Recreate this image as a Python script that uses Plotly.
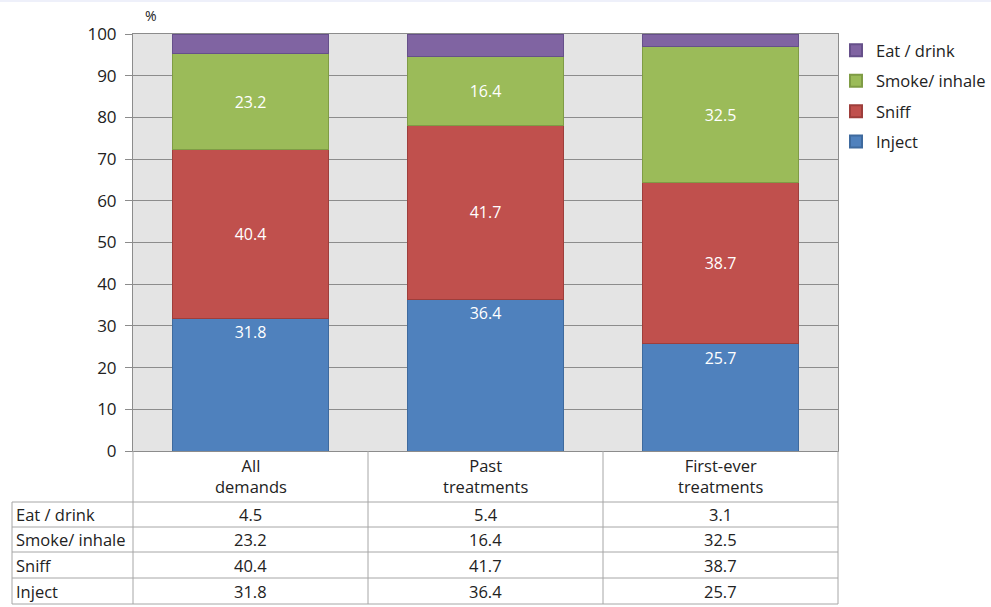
import plotly.graph_objects as go

categories = ["All<br>demands", "Past<br>treatments", "First-ever<br>treatments"]
series_names = ["Inject", "Sniff", "Smoke/ inhale", "Eat / drink"]
inject = [31.8, 36.4, 25.7]
sniff = [40.4, 41.7, 38.7]
smoke = [23.2, 16.4, 32.5]
eat = [4.5, 5.4, 3.1]
y_ticks = [0, 10, 20, 30, 40, 50, 60, 70, 80, 90, 100]

colors = ["#4F81BD", "#C0504D", "#9BBB59", "#8064A2"]
edge = ["#3E6A9E", "#9E3E3B", "#7F9C45", "#66508A"]
values = [inject, sniff, smoke, eat]
FONT = "Open Sans"
FS = 16.5

W, H = 991, 607
ML, MR, MT, MB = 133, 153, 34, 156
PW, PH = W - ML - MR, H - MT - MB

def py(px):
    return (H - MB - px) / PH

def pxx(px):
    return (px - ML) / PW

xs = list(range(len(categories)))
fig = go.Figure()
for i, (name, vals) in enumerate(zip(series_names, values)):
    show_text = i < 3
    fig.add_trace(go.Bar(
        x=xs, y=vals, name=name, legendgroup=name, legendrank=len(series_names) - i,
        marker=dict(color=colors[i], line=dict(color=edge[i], width=1)),
        width=0.664,
        text=[f"{v:.1f}" for v in vals] if show_text else None,
        texttemplate="%{text}" if show_text else None,
        textposition="inside" if show_text else "none",
        insidetextanchor="end" if i == 0 else "middle",
        textfont=dict(color="white", size=16, family=FONT),
        textangle=0,
        hoverinfo="skip",
    ))

fig.update_layout(
    barmode="stack",
    width=W, height=H,
    margin=dict(l=ML, r=MR, t=MT, b=MB, pad=0, autoexpand=False),
    paper_bgcolor="white",
    plot_bgcolor="#E4E4E4",
    font=dict(family=FONT, size=FS, color="#222"),
    legend=dict(xref="container", yref="container", x=836 / W, y=1 - 33 / H,
                xanchor="left", yanchor="top",
                traceorder="grouped", tracegroupgap=6,
                font=dict(size=FS, family=FONT, color="#222"),
                itemsizing="constant", bgcolor="rgba(0,0,0,0)", itemwidth=30),
    showlegend=True,
)
fig.update_xaxes(range=[-0.5, 2.5], showticklabels=False, showgrid=False, zeroline=False,
                 showline=True, linecolor="#8C8C8C", linewidth=1, mirror=True, ticks="")
fig.update_yaxes(range=[0, 100], tickvals=y_ticks, showgrid=True, gridcolor="#8C8C8C",
                 gridwidth=1, zeroline=False, showline=True, linecolor="#8C8C8C", mirror=True,
                 ticks="outside", ticklen=7, tickcolor="#8C8C8C", ticklabelstandoff=5,
                 tickfont=dict(size=17, family=FONT, color="#222"))

# "%" unit label
fig.add_annotation(text="%", xref="paper", yref="paper", x=pxx(151), y=py(15),
                   xanchor="center", yanchor="middle",
                   showarrow=False, font=dict(size=14, family=FONT, color="#222"))

# data table under the chart
line_col = "#A6A6A6"
row_lines = [451, 502, 527, 552, 578, 604]
ncat = len(categories)
shapes = [dict(type="rect", xref="paper", yref="paper", x0=pxx(0), x1=pxx(W),
               y0=py(2), y1=py(0), line=dict(width=0), fillcolor="#EEF0FA")]
for k in range(ncat + 1):
    shapes.append(dict(type="line", xref="paper", yref="paper", x0=k / ncat, x1=k / ncat,
                       y0=py(451), y1=py(604), line=dict(color=line_col, width=1)))
shapes.append(dict(type="line", xref="paper", yref="paper", x0=pxx(12), x1=pxx(12),
                   y0=py(502), y1=py(604), line=dict(color=line_col, width=1)))
for r in row_lines[1:]:
    shapes.append(dict(type="line", xref="paper", yref="paper", x0=pxx(12), x1=1,
                       y0=py(r), y1=py(r), line=dict(color=line_col, width=1)))
fig.update_layout(shapes=shapes)

for j, c in enumerate(categories):
    fig.add_annotation(text=c, x=xs[j], xref="x", yref="paper", y=py(476),
                       xanchor="center", yanchor="middle",
                       showarrow=False, font=dict(size=FS, family=FONT, color="#222"))

table_rows = list(reversed(series_names))
table_vals = list(reversed(values))
for r, (name, vals) in enumerate(zip(table_rows, table_vals)):
    yc = py((row_lines[r + 1] + row_lines[r + 2]) / 2)
    fig.add_annotation(text=name, xref="paper", yref="paper", x=pxx(14), y=yc,
                       xanchor="left", yanchor="middle", showarrow=False,
                       font=dict(size=FS, family=FONT, color="#222"))
    for j, v in enumerate(vals):
        fig.add_annotation(text=f"{v:.1f}", x=xs[j], xref="x", yref="paper", y=yc,
                           xanchor="center", yanchor="middle",
                           showarrow=False, font=dict(size=FS, family=FONT, color="#222"))

fig.write_html("out.html")
